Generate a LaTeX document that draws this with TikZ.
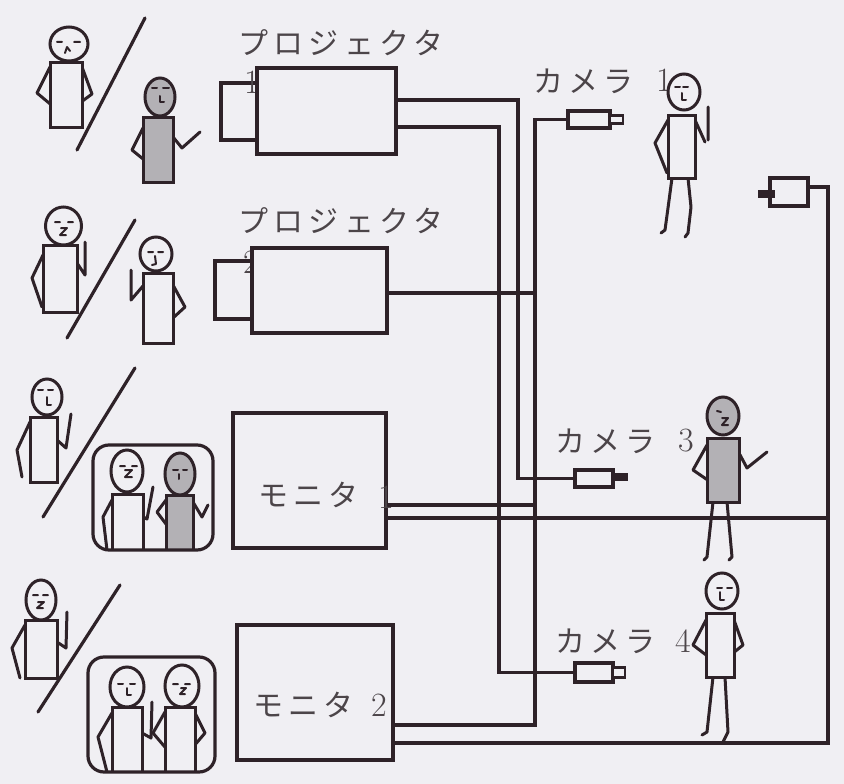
\documentclass[tikz,border=0pt]{standalone}
\usepackage{fontspec}
\newfontfamily\jp[LetterSpace=18]{Noto Sans CJK JP}

\definecolor{paper}{HTML}{F0EFF3}
\definecolor{ink}{HTML}{2E2228}
\definecolor{shade}{HTML}{B3B1B5}
\definecolor{letter}{HTML}{4C4549}

\tikzset{
  device/.style={draw=ink, line width=3.2pt, fill=paper, rectangle, inner sep=0pt, outer sep=0pt},
  lensdark/.style={draw=ink, line width=1.2pt, fill=ink, rectangle, inner sep=0pt, outer sep=0pt},
  wire/.style={draw=ink, line width=3.4pt},
  limb/.style={draw=ink, line width=3pt, line cap=round, line join=round},
  torso/.style={draw=ink, line width=3pt, fill=paper},
  torsogray/.style={draw=ink, line width=3pt, fill=shade},
  feature/.style={draw=ink, line width=2pt, line cap=round, line join=round},
  screen/.style={draw=ink, line width=3.2pt, rounded corners=16pt},
  slash/.style={draw=ink, line width=3.2pt, line cap=round},
  kana/.style={text=letter, font=\jp\fontsize{30}{32}\selectfont, inner sep=0pt, anchor=west},
  digit/.style={text=letter, font=\fontsize{34}{36}\selectfont, inner sep=0pt},
}

\begin{document}
\begin{tikzpicture}[x=1pt, y=-1pt]
\fill[paper] (0,0) rectangle (844,784);
\useasboundingbox (0,0) rectangle (844,784);

% ---------- devices ----------
\node[device, minimum width=36pt, minimum height=57pt] (lens1) at (239,111.5) {};
\node[digit] (n1) at (252,82) {1};
\node[device, minimum width=139pt, minimum height=86pt] (proj1) at (326.5,111) {};
\node[device, minimum width=40pt, minimum height=58pt] (lens2) at (235,290) {};
\node[digit] (n2) at (251,262) {2};
\node[device, minimum width=135pt, minimum height=85pt] (proj2) at (319.5,290.5) {};
\node[device, minimum width=153pt, minimum height=135pt] (mon1) at (309.5,480.5) {};
\node[device, minimum width=156pt, minimum height=135pt] (mon2) at (315,692.5) {};

\node[device, minimum width=42pt, minimum height=17pt] (cam1) at (589,119.5) {};
\node[device, line width=2.4pt, minimum width=13pt, minimum height=8pt, anchor=west] (cam1lens) at (cam1.east) {};
\node[device, minimum width=38pt, minimum height=28pt] (cam2) at (789,192) {};
\node[lensdark, minimum width=15pt, minimum height=6pt, anchor=east] (cam2lens) at ([xshift=4pt,yshift=-2pt]cam2.west) {};
\node[device, minimum width=38pt, minimum height=17pt] (cam3) at (594,478.5) {};
\node[lensdark, minimum width=14pt, minimum height=7pt, anchor=west] (cam3lens) at ([yshift=1.5pt]cam3.east) {};
\node[device, minimum width=38pt, minimum height=19pt] (cam4) at (594,672.5) {};
\node[device, line width=2.4pt, minimum width=12pt, minimum height=10pt, anchor=west] (cam4lens) at (cam4.east) {};

% ---------- cabling ----------
\coordinate (a1) at (518,100);
\coordinate (a2) at (499,127);
\coordinate (b1) at (535,293);
\coordinate (b2) at (535,505);
\coordinate (b3) at (535,725);
\coordinate (c0) at (828,187);
\coordinate (c1) at (828,518);
\coordinate (c2) at (828,743);

\draw[wire] (proj1.east |- a1) -- (a1) |- (cam3.west);
\draw[wire] (proj1.east |- a2) -- (a2) |- (cam4.west);
\draw[wire] (cam1.west) -| (b3) -- (mon2.east |- b3);
\draw[wire] (proj2.east |- b1) -- (b1);
\draw[wire] (mon1.east |- b2) -- (b2);
\draw[wire] (cam2.east |- c0) -- (c0) -- (c2) -- (mon2.east |- c2);
\draw[wire] (mon1.east |- c1) -- (c1);

% ---------- labels ----------
\node[kana] (lp1) at (238,43) {プロジェクタ};
\node[kana] (lp2) at (238,221) {プロジェクタ};
\node[kana] (lc1) at (533,81) {カメラ};
\node[digit] (d1) at (664,80) {1};
\node[kana] (lc3) at (555,441) {カメラ};
\node[digit] (d3) at (686,441) {3};
\node[kana] (lc4) at (555,641) {カメラ};
\node[digit] (d4) at (683,641) {4};
\node[kana] (lm1) at (258,495) {モニタ};
\node[digit] (dm1) at (386,497) {1};
\node[kana] (lm2) at (253,705) {モニタ};
\node[digit] (dm2) at (379,705) {2};

% ---------- row 1: speaker and remote partner ----------
\draw[limb] (50,67) -- (37,93) -- (55,108);
\draw[limb] (82,67) -- (92,94) -- (73,108);
\draw[torso] (50,63) rectangle (82,127);
\draw[torso] (69,44) ellipse [x radius=19pt, y radius=17pt];
\draw[feature] (57,42) -- (62,42) (74,42) -- (80,42) (65,53) -- (67,47) -- (70,51);
\draw[slash] (145,18) -- (77,150);
\draw[limb] (143,128) -- (132,150) -- (148,163);
\draw[limb] (173,137) -- (182,148) -- (200,132);
\draw[torsogray] (143,117) rectangle (173,182);
\draw[torsogray] (160,97) ellipse [x radius=15pt, y radius=19pt];
\draw[feature] (152,88) -- (157,88) (163,88) -- (169,88) (160,96) -- (160,102) -- (164,102);

% ---------- row 2 ----------
\draw[limb] (43,255) -- (32,278) -- (42,307);
\draw[limb] (77,263) -- (85,275) -- (85,242);
\draw[torso] (43,245) rectangle (77,312);
\draw[torso] (63.5,226) ellipse [x radius=18pt, y radius=19pt];
\draw[feature] (55,222) -- (60,222) (68,222) -- (73,222) (61,228) -- (67,228) -- (60,235) -- (66,235);
\draw[slash] (135,220) -- (67,338);
\draw[limb] (143,286) -- (131,300) -- (131,270);
\draw[limb] (173,285) -- (185,307) -- (173,318);
\draw[torso] (143,273) rectangle (173,343);
\draw[torso] (156,254) ellipse [x radius=16pt, y radius=17pt];
\draw[feature] (148,252) -- (153,252) (158,252) -- (163,252) (155,256) -- (156,264) -- (152,265);

% ---------- row 3 ----------
\draw[limb] (30,422) -- (17,450) -- (22,477);
\draw[limb] (57,440) -- (66,448) -- (71,414);
\draw[torso] (30,417) rectangle (57,482);
\draw[torso] (47,397) ellipse [x radius=15pt, y radius=18pt];
\draw[feature] (38,390) -- (43,390) (48,390) -- (53,390) (47,397) -- (47,405) -- (51,405);
\draw[slash] (135,368) -- (43,517);
\begin{scope}
  \clip[rounded corners=16pt] (93,445) rectangle (213,550);
  \draw[limb] (112,500) -- (103,517) -- (107,550);
  \draw[limb] (143,517) -- (147,519) -- (153,487);
  \draw[torso] (112,494) rectangle (143,556);
  \draw[torso] (127,471) ellipse [x radius=16pt, y radius=21pt];
  \draw[feature] (120,466) -- (125,466) (132,466) -- (137,466) (125,470) -- (132,470) -- (125,477) -- (132,477);
  \draw[limb] (166,500) -- (157,512) -- (172,532);
  \draw[limb] (193,502) -- (202,517) -- (208,505);
  \draw[torsogray] (166,495) rectangle (193,556);
  \draw[torsogray] (180,474) ellipse [x radius=15pt, y radius=21pt];
  \draw[feature] (173,470) -- (178,470) (183,470) -- (187,470) (179,474) -- (179,479);
\end{scope}
\draw[screen] (93,445) rectangle (213,550);

% ---------- row 4 ----------
\draw[limb] (25,625) -- (12,648) -- (20,678);
\draw[limb] (57,642) -- (66,648) -- (67,612);
\draw[torso] (25,620) rectangle (57,678);
\draw[torso] (41,600) ellipse [x radius=15pt, y radius=20pt];
\draw[feature] (33,595) -- (38,595) (43,595) -- (48,595) (38,602) -- (44,602) -- (37,608) -- (43,608);
\draw[slash] (120,585) -- (38,712);
\begin{scope}
  \clip[rounded corners=17pt] (88,657) rectangle (215,772);
  \draw[limb] (112,713) -- (98,737) -- (107,772);
  \draw[limb] (142,733) -- (151,738) -- (152,702);
  \draw[torso] (112,707) rectangle (142,778);
  \draw[torso] (127,687) ellipse [x radius=17pt, y radius=20pt];
  \draw[feature] (118,684) -- (123,684) (130,684) -- (135,684) (127,688) -- (127,695) -- (131,695);
  \draw[limb] (165,712) -- (153,733) -- (170,753);
  \draw[limb] (195,713) -- (205,733) -- (188,753);
  \draw[torso] (165,707) rectangle (195,778);
  \draw[torso] (182,686) ellipse [x radius=17pt, y radius=21pt];
  \draw[feature] (173,684) -- (178,684) (185,684) -- (190,684) (181,688) -- (186,688) -- (180,694) -- (185,694);
\end{scope}
\draw[screen] (88,657) rectangle (215,772);

% ---------- people in the room ----------
% beside camera 1
\draw[limb] (672,178) -- (668,208) -- (665,230) -- (661,233);
\draw[limb] (688,178) -- (691,207) -- (688,233) -- (685,237);
\draw[limb] (668,120) -- (655,143) -- (667,173);
\draw[limb] (695,120) -- (705,142) (708,107) -- (708,140);
\draw[torso] (668,115) rectangle (695,178);
\draw[torso] (684,92) ellipse [x radius=16pt, y radius=18pt];
\draw[feature] (675,87) -- (680,87) (683,87) -- (688,87) (682,93) -- (682,100) -- (686,100);

% beside camera 3
\draw[limb] (713,502) -- (707,557) -- (704,560);
\draw[limb] (727,502) -- (732,557) -- (729,560);
\draw[limb] (707,445) -- (693,470) -- (712,483);
\draw[limb] (739,453) -- (747,468) -- (767,452);
\draw[torsogray] (707,438) rectangle (739,502);
\draw[torsogray] (723,416) ellipse [x radius=16pt, y radius=19pt];
\draw[feature] (717,411) -- (721,412) (722,418) -- (728,418) -- (722,425) -- (728,425);

% beside camera 4
\draw[limb] (713,677) -- (707,732) -- (702,735);
\draw[limb] (725,677) -- (728,732) -- (723,742);
\draw[limb] (706,620) -- (693,645) -- (710,658);
\draw[limb] (734,620) -- (743,645) -- (727,658);
\draw[torso] (706,613) rectangle (734,677);
\draw[torso] (722,591) ellipse [x radius=16pt, y radius=18pt];
\draw[feature] (717,588) -- (722,588) (727,588) -- (732,588) (720,592) -- (720,600) -- (724,600);
\end{tikzpicture}
\end{document}
